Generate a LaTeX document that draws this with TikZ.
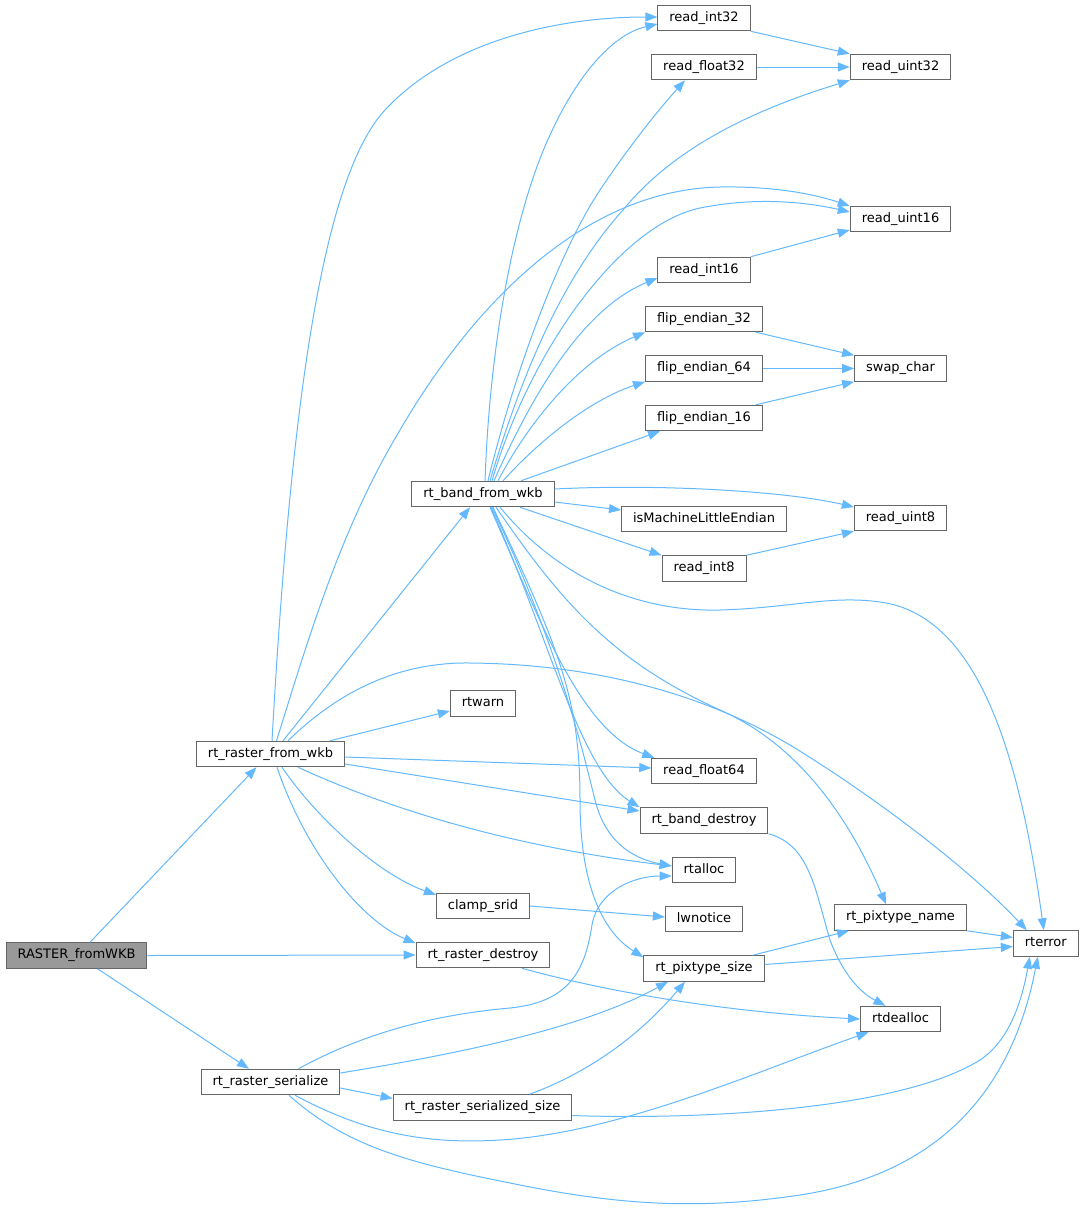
\documentclass[tikz,border=0pt]{standalone}
\usepackage{fontspec}
\setmainfont{DejaVu Sans}
\usetikzlibrary{arrows.meta}
\definecolor{edgeblue}{HTML}{63B8FF}
\definecolor{boxgray}{HTML}{666666}
\definecolor{mainfill}{HTML}{999999}
\begin{document}
\begin{tikzpicture}[x=1pt,y=-1pt,
  fn/.style={draw=boxgray, fill=white, line width=1pt, font=\fontsize{13pt}{15pt}\selectfont,
    inner xsep=11.5pt, inner ysep=0pt, minimum height=25.5pt, text height=9.5pt, text depth=2.7pt},
  mainfn/.style={fn, fill=mainfill},
  call/.style={draw=edgeblue, line width=1pt, -{Triangle[length=12pt,width=9pt]}}]
\useasboundingbox (0,0) rectangle (1083,1210);

% nodes
\node[mainfn] (main) at (76.5,955.5) {RASTER\_fromWKB};
\node[fn] (rfw) at (270.5,754) {rt\_raster\_from\_wkb};
\node[fn] (rser) at (270.5,1082) {rt\_raster\_serialize};
\node[fn] (bfw) at (483,494) {rt\_band\_from\_wkb};
\node[fn] (rtwarn) at (483,703.5) {rtwarn};
\node[fn] (clamp) at (483,906) {clamp\_srid};
\node[fn] (rdestroy) at (483,955) {rt\_raster\_destroy};
\node[fn] (rsize) at (482.5,1107.5) {rt\_raster\_serialized\_size};
\node[fn] (ri32) at (704,18) {read\_int32};
\node[fn] (rf32) at (704,67) {read\_float32};
\node[fn] (ri16) at (704,270) {read\_int16};
\node[fn] (fe32) at (704,319) {flip\_endian\_32};
\node[fn] (fe64) at (704,368.5) {flip\_endian\_64};
\node[fn] (fe16) at (704,418) {flip\_endian\_16};
\node[fn] (isle) at (704,519) {isMachineLittleEndian};
\node[fn] (ri8) at (704,568.5) {read\_int8};
\node[fn] (rf64) at (704,771) {read\_float64};
\node[fn] (bdestroy) at (704,820.5) {rt\_band\_destroy};
\node[fn] (rtalloc) at (704,870) {rtalloc};
\node[fn] (lwnotice) at (704,919) {lwnotice};
\node[fn] (pxsize) at (704,968.5) {rt\_pixtype\_size};
\node[fn] (ru32) at (900.5,67) {read\_uint32};
\node[fn] (ru16) at (900.5,219) {read\_uint16};
\node[fn] (swap) at (900.5,368.5) {swap\_char};
\node[fn] (ru8) at (900.5,518) {read\_uint8};
\node[fn] (pxname) at (900.5,917.5) {rt\_pixtype\_name};
\node[fn] (rtdealloc) at (900.5,1019) {rtdealloc};
\node[fn] (rterror) at (1045.8,943.5) {rterror};

% RASTER_fromWKB
\draw[call] ([xshift=13.5pt]main.north) -- ([xshift=-14pt]rfw.south);
\draw[call] (main.east) -- (rdestroy.west);
\draw[call] ([xshift=21pt]main.south) -- ([xshift=-21.5pt]rser.north);

% rt_raster_from_wkb
\draw[call] ([xshift=1.5pt]rfw.north) .. controls (290,420) and (320,180) .. (385,110) .. controls (450,40) and (560,17) .. ([yshift=1pt]ri32.west);
\draw[call] ([xshift=6pt]rfw.north) .. controls (308,640) and (340,530) .. (400,430) .. controls (470,310) and (580,190) .. (720,187) .. controls (780,186) and (820,196) .. ([yshift=13pt]ru16.west);
\draw[call] ([xshift=12.5pt]rfw.north) -- ([xshift=-13pt]bfw.south);
\draw[call] ([xshift=17.5pt]rfw.north) .. controls (340,690) and (400,662) .. (470,663) .. controls (590,664) and (700,692) .. (790,745) .. controls (880,800) and (970,870) .. ([xshift=-19pt]rterror.north);
\draw[call] ([xshift=-15pt]rfw.north east) -- ([yshift=-7.5pt]rtwarn.west);
\draw[call] ([yshift=-3pt]rfw.east) -- ([yshift=3pt]rf64.west);
\draw[call] ([yshift=-10pt]rfw.east) -- ([yshift=9.5pt]bdestroy.west);
\draw[call] ([xshift=27.5pt]rfw.south) .. controls (380,805) and (500,845) .. ([yshift=4pt]rtalloc.west);
\draw[call] ([xshift=11.5pt]rfw.south) .. controls (318,820) and (380,875) .. ([yshift=-2pt]clamp.north west);
\draw[call] ([xshift=6.5pt]rfw.south) .. controls (305,850) and (360,920) .. ([yshift=-1.5pt]rdestroy.north west);

% rt_band_from_wkb
\draw[call] ([xshift=2pt]bfw.north) .. controls (490,340) and (515,210) .. (550,135) .. controls (575,80) and (610,35) .. ([yshift=-6pt]ri32.west);
\draw[call] ([xshift=5pt]bfw.north) .. controls (515,370) and (560,250) .. (600,190) .. controls (630,145) and (660,108) .. ([xshift=-19pt]rf32.south);
\draw[call] ([xshift=7pt]bfw.north) .. controls (520,380) and (560,280) .. (623,210) .. controls (680,140) and (770,105) .. (ru32.south west);
\draw[call] ([xshift=9pt]bfw.north) .. controls (530,350) and (620,225) .. (700,208) .. controls (760,196) and (810,203) .. ([yshift=7pt]ru16.west);
\draw[call] ([xshift=11pt]bfw.north) .. controls (530,400) and (580,310) .. ([yshift=-8pt]ri16.west);
\draw[call] ([xshift=15pt]bfw.north) .. controls (530,420) and (580,360) .. (fe32.south west);
\draw[call] ([xshift=20pt]bfw.north) .. controls (540,440) and (590,400) .. (fe64.south west);
\draw[call] ([xshift=38pt]bfw.north) -- ([xshift=-44pt]fe16.south);
\draw[call] ([yshift=5pt]bfw.east) .. controls (650,484) and (780,490) .. ([yshift=11pt]ru8.west);
\draw[call] ([yshift=-8pt]bfw.east) -- ([yshift=9pt]isle.west);
\draw[call] ([xshift=37pt]bfw.south) -- (ri8.north west);
\draw[call] ([xshift=17pt]bfw.south) .. controls (560,580) and (640,612) .. (720,610) .. controls (790,608) and (830,595) .. (880,602) .. controls (980,615) and (1020,760) .. ([xshift=-2pt]rterror.north);
\draw[call] ([xshift=13pt]bfw.south) .. controls (560,600) and (610,660) .. (720,710) .. controls (800,745) and (850,820) .. ([xshift=-14.5pt]pxname.north);
\draw[call] ([xshift=7pt]bfw.south) .. controls (540,620) and (580,730) .. ([xshift=3pt]rf64.north west);
\draw[call] ([xshift=8pt]bfw.south) .. controls (550,640) and (580,770) .. (bdestroy.north west);
\draw[call] ([xshift=9pt]bfw.south) .. controls (560,650) and (585,760) .. (595,800) .. controls (605,840) and (630,858) .. ([yshift=4pt]rtalloc.west);
\draw[call] ([xshift=10pt]bfw.south) .. controls (560,650) and (580,700) .. (580,800) .. controls (580,880) and (600,930) .. ([yshift=-2pt]pxsize.north west);

% leaf-level calls
\draw[call] (ri32.south east) -- (ru32.north west);
\draw[call] (rf32.east) -- (ru32.west);
\draw[call] (ri16.north east) -- ([yshift=-11pt]ru16.west);
\draw[call] ([xshift=-7pt]fe32.south east) -- (swap.north west);
\draw[call] (fe64.east) -- (swap.west);
\draw[call] ([xshift=-7pt]fe16.north east) -- (swap.south west);
\draw[call] (ri8.north east) -- (ru8.south west);
\draw[call] (clamp.east) -- ([yshift=2pt]lwnotice.west);
\draw[call] ([xshift=39pt]rdestroy.south) .. controls (600,990) and (720,1012) .. (rtdealloc.west);
\draw[call] (bdestroy.south east) .. controls (810,845) and (815,890) .. (830,940) .. controls (845,980) and (865,995) .. ([xshift=-15pt]rtdealloc.north);
\draw[call] ([xshift=-12pt]pxsize.north east) -- ([xshift=15pt]pxname.south west);
\draw[call] ([yshift=4pt]pxsize.east) -- ([yshift=-3pt]rterror.west);
\draw[call] (pxname.south east) -- ([yshift=6pt]rterror.west);

% rt_raster_serialize
\draw[call] ([xshift=28pt]rser.north) .. controls (360,1035) and (430,1015) .. (510,1008) .. controls (570,1002) and (585,970) .. (592,925) .. controls (598,890) and (635,876) .. ([yshift=-6pt]rtalloc.west);
\draw[call] ([yshift=9pt]rser.east) .. controls (450,1055) and (580,1030) .. ([xshift=-36pt]pxsize.south);
\draw[call] ([yshift=-6pt]rser.east) -- ([yshift=9pt]rsize.west);
\draw[call] ([xshift=24.5pt]rser.south) .. controls (360,1130) and (420,1145) .. (500,1140) .. controls (620,1133) and (760,1070) .. ([xshift=-32pt]rtdealloc.south);
\draw[call] ([xshift=18.5pt]rser.south) .. controls (350,1150) and (420,1165) .. (520,1185) .. controls (620,1205) and (700,1210) .. (800,1195) .. controls (930,1175) and (1010,1100) .. ([xshift=-8pt]rterror.south);

% rt_raster_serialized_size
\draw[call] ([xshift=47pt]rsize.north) .. controls (590,1072) and (640,1035) .. ([xshift=-19pt]pxsize.south);
\draw[call] ([yshift=-8pt]rsize.east) .. controls (700,1120) and (900,1110) .. (980,1060) .. controls (1010,1040) and (1022,1000) .. ([xshift=-16pt]rterror.south);
\end{tikzpicture}
\end{document}
